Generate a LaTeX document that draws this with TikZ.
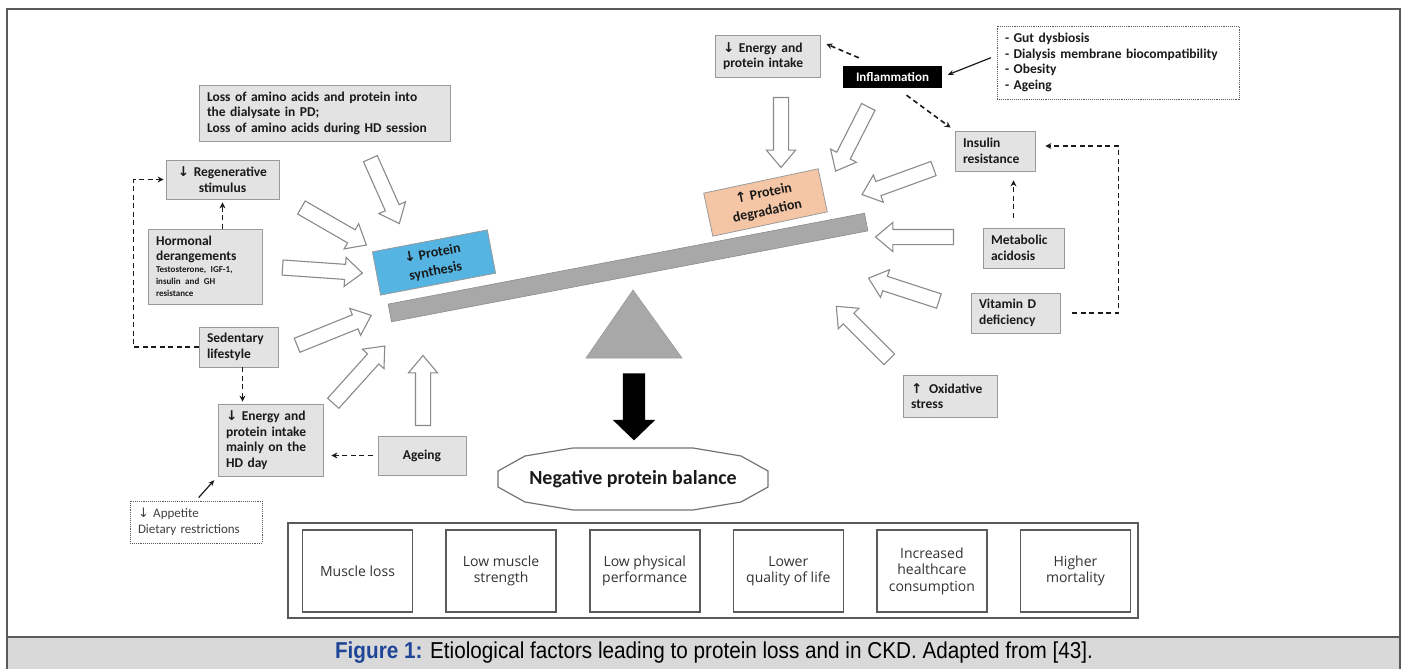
\documentclass[tikz,border=0pt]{standalone}
\usepackage{fontspec}
\setmainfont{Carlito}
\newfontfamily\arrowfont{DejaVu Sans}
\newfontfamily\outcomefont{Open Sans}
\newfontfamily\captionfont[FakeStretch=0.9]{Liberation Sans}
\usetikzlibrary{shapes.arrows, arrows.meta, positioning, calc}
\definecolor{inkdark}{HTML}{1A1A1A}
\definecolor{boxfill}{HTML}{E3E3E3}
\definecolor{boxline}{HTML}{9A9A9A}
\definecolor{synthfill}{HTML}{55B4E2}
\definecolor{degradfill}{HTML}{F5C6A5}
\definecolor{beamgray}{HTML}{A8A8A8}
\definecolor{arrowline}{HTML}{8A8A8A}
\definecolor{framegray}{HTML}{5A5A5A}
\definecolor{bandfill}{HTML}{D9D9D9}
\definecolor{figblue}{HTML}{1F4597}
\newcommand{\arrdown}{{\arrowfont\symbol{"2193}}}
\newcommand{\arrup}{{\arrowfont\symbol{"2191}}}

\begin{document}
\begin{tikzpicture}[
  x=1pt, y=-1pt, >=Stealth,
  node distance=32pt, align=center,
]

\tikzset{
  factor/.style={rectangle, draw=boxline, fill=boxfill, line width=0.8pt,
    inner xsep=8pt, inner ysep=2pt, text=inkdark, align=left,
    font=\bfseries\fontsize{13.5}{15.5}\selectfont},
  notebox/.style={rectangle, draw=framegray, fill=white, densely dotted, line width=0.9pt,
    inner xsep=8pt, inner ysep=2pt, align=left},
  tilted/.style={rectangle, draw=boxline, line width=0.8pt, minimum width=117pt,
    minimum height=44pt, inner sep=0pt, text=inkdark,
    font=\bfseries\fontsize{14}{18}\selectfont},
  blockarrow/.style={single arrow, draw=arrowline, fill=white, line width=1.1pt,
    minimum width=28pt, single arrow head extend=7pt, single arrow head indent=0pt,
    single arrow tip angle=80, inner xsep=0pt, inner ysep=7pt, minimum height=#1},
  dashlink/.style={draw=inkdark, line width=1.6pt, dash pattern=on 5pt off 3.5pt,
    -{Stealth[length=6pt, width=6pt]}},
  solidlink/.style={draw=inkdark, line width=1.2pt, -{Stealth[length=6pt, width=5pt]}},
  effect/.style={rectangle, draw=framegray, line width=1.6pt, fill=white,
    minimum width=110pt, minimum height=82pt, inner sep=2pt, text=black!80,
    font=\outcomefont\fontsize{14}{16.5}\selectfont},
}

\useasboundingbox (0,0) rectangle (1402,669);

% ---- frame and caption ----
\fill[bandfill] (7,637) rectangle (1400,669);
\draw[framegray, line width=1.5pt] (7,669) -- (7,9) -- (1400,9) -- (1400,669);
\draw[framegray, line width=2pt] (7,637) -- (1400,637);
\node[font=\captionfont\fontsize{23}{26}\selectfont] (caption) at (714,653)
  {{\bfseries\color{figblue}Figure 1:} Etiological factors leading to protein loss and in CKD. Adapted from [43].};

% ---- balance ----
\node[rectangle, fill=beamgray, draw=black!45, line width=0.6pt, rotate=10.8,
  minimum width=485pt, minimum height=18pt, inner sep=0pt] (beam) at (628,267.5) {};
\draw[fill=beamgray, draw=black!40, line width=0.6pt] (633,290) -- (682,358) -- (586,358) -- cycle;
\node[tilted, fill=synthfill, rotate=10.8] (synthesis) at (434,262.5) {\arrdown{} Protein\\synthesis};
\node[tilted, fill=degradfill, rotate=12] (degradation) at (765.5,202.5) {\arrup{} Protein\\degradation};

\node[single arrow, fill=black, rotate=-90, minimum height=67pt, minimum width=42pt,
  single arrow head extend=10pt, single arrow tip angle=92, inner xsep=0pt, inner ysep=11pt]
  (drop) at (634,401.5) {};

\node[font=\bfseries\fontsize{20}{24}\selectfont, text=inkdark] (balance) at (633,479)
  {Negative protein balance};
\draw[black!55, line width=1.2pt] (balance.center) ++(-135,-8) -- ++(27,-15) -- ++(48,-8)
  -- ++(120,0) -- ++(48,8) -- ++(27,15) -- ++(0,16) -- ++(-27,15) -- ++(-48,8)
  -- ++(-120,0) -- ++(-48,-8) -- ++(-27,-15) -- cycle;

% ---- left side: lower synthesis ----
\node[factor, text width=235pt, minimum height=56pt] (loss) at (324.5,113)
  {Loss of amino acids and protein into\\the dialysate in PD;\\Loss of amino acids during HD session};
\node[factor, text width=97pt, minimum height=39pt, align=center] (regen) at (222.5,179.5)
  {\arrdown{} Regenerative\\stimulus};
\node[factor, text width=98pt, minimum height=75pt] (hormonal) at (205,266.5)
  {Hormonal\\derangements\par{\fontsize{9}{12}\selectfont Testosterone, IGF-1,\\insulin and GH\\resistance\par}};
\node[factor, text width=63pt, minimum height=40pt] (sedentary) at (238.5,347)
  {Sedentary\\lifestyle};
\node[factor, text width=89pt, minimum height=72pt] (intakeL) at (270.5,440)
  {\arrdown{} Energy and\\protein intake\\mainly on the\\HD day};
\node[factor, text width=72pt, minimum height=39pt, align=center] (ageing) at (422,455.5)
  {Ageing};
\node[notebox, text width=116pt, minimum height=42pt, text=black!75,
  font=\fontsize{13}{15.5}\selectfont] (appetite) at (196,522)
  {\arrdown{} Appetite\\Dietary restrictions};

\node[blockarrow=71, rotate=-66] (lossarr) at (383,187) {};
\node[blockarrow=75, rotate=-30] (regenarr) at (330,224) {};
\node[blockarrow=80, rotate=-4] (hormarr) at (318,270) {};
\node[blockarrow=80, rotate=22] (sedarr) at (330,332) {};
\node[blockarrow=77, rotate=48] (intakearr) at (356,378) {};
\node[blockarrow=70, rotate=90] (agearr) at (423,395) {};

\draw[dashlink, shorten >=3pt] (regen.south |- hormonal.north) -- (regen.south);
\draw[dashlink, shorten >=2pt] (sedentary.west) -- ++(-65,0) |- (regen.west);
\draw[dashlink, shorten >=2pt] ([xshift=4pt]sedentary.south) -- ([xshift=4pt]sedentary.south |- intakeL.north);
\draw[dashlink, shorten <=5pt, shorten >=8pt] (ageing.west) -- (ageing.west -| intakeL.east);
\draw[solidlink, shorten <=4pt, shorten >=5pt] (appetite.north) -- (intakeL.south west);

% ---- right side: higher degradation ----
\node[factor, text width=89pt, minimum height=42pt] (intakeR) at (767.5,56)
  {\arrdown{} Energy and\\protein intake};
\node[rectangle, fill=black, text=white, minimum width=99pt, minimum height=22pt, inner sep=0pt,
  font=\bfseries\fontsize{13}{15}\selectfont] (inflam) at (892.5,77) {Inflammation};
\node[notebox, text width=226pt, minimum height=73pt, text=inkdark,
  font=\bfseries\fontsize{13.5}{15.5}\selectfont] (causes) at (1118,62.5)
  {- Gut dysbiosis\\- Dialysis membrane biocompatibility\\- Obesity\\- Ageing};
\node[factor, text width=64pt, minimum height=40pt] (insulin) at (995,151)
  {Insulin\\resistance};
\node[factor, text width=65pt, minimum height=40pt] (acidosis) at (1023.5,248)
  {Metabolic\\acidosis};
\node[factor, text width=73pt, minimum height=40pt] (vitd) at (1015.5,313)
  {Vitamin D\\deficiency};
\node[factor, text width=78pt, minimum height=42pt] (oxid) at (950,396)
  {\arrup\enspace Oxidative\\stress};

\node[blockarrow=70, rotate=-90] (intakearrR) at (781,128) {};
\node[blockarrow=72, rotate=-117] (inflamarr) at (854,135) {};
\node[blockarrow=76, rotate=-160] (insulinarr) at (902,180) {};
\node[blockarrow=78, rotate=180] (acidarr) at (919,237) {};
\node[blockarrow=74, rotate=162] (vitdarr) at (908,291) {};
\node[blockarrow=75, rotate=135] (oxidarr) at (866,336) {};

\draw[dashlink] ([shift={(16,-8)}]inflam.north west) -- ([shift={(6,-12)}]intakeR.east);
\draw[dashlink] ([shift={(14,7)}]inflam.south) -- ([shift={(-4,-3)}]insulin.north west);
\draw[dashlink, shorten <=10pt, shorten >=9pt] ([xshift=-10pt]acidosis.north)
  -- ([xshift=-10pt]acidosis.north |- insulin.south);
\draw[dashlink] (vitd.east) ++(12,0) -- ++(46,0) |- ([shift={(10,-5)}]insulin.east);
\draw[solidlink, shorten <=6pt, shorten >=6pt] ([yshift=7pt]causes.west) -- (inflam.east);

% ---- consequences ----
\node[rectangle, draw=framegray, line width=1.4pt, minimum width=850pt, minimum height=95pt]
  (outcomes) at (713,570.5) {};
\node[effect] (muscle) at (357.5,571) {Muscle loss};
\node[effect, right=32pt of muscle] (strength) {Low muscle\\strength};
\node[effect, right=32pt of strength] (performance) {Low physical\\performance};
\node[effect, right=32pt of performance] (quality) {Lower\\quality of life};
\node[effect, right=32pt of quality] (healthcare) {Increased\\healthcare\\consumption};
\node[effect, right=32pt of healthcare] (mortality) {Higher\\mortality};

\end{tikzpicture}
\end{document}
